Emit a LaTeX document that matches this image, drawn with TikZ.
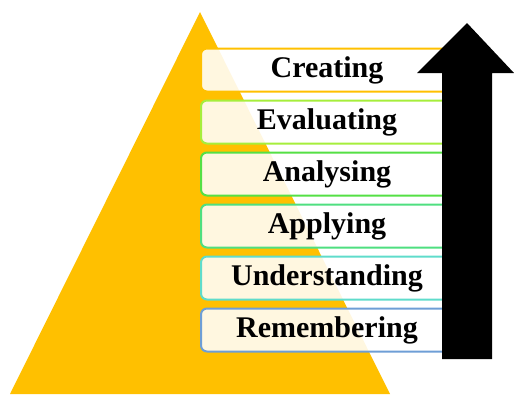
\documentclass[tikz,border=0pt]{standalone}
\usepackage{fontspec}
\setmainfont{Liberation Serif}
\usetikzlibrary{positioning}
\definecolor{Gold}{HTML}{FFC000}
\definecolor{LevelSix}{HTML}{FFC000}
\definecolor{LevelFive}{HTML}{A6EE3C}
\definecolor{LevelFour}{HTML}{55E045}
\definecolor{LevelThree}{HTML}{4FDF80}
\definecolor{LevelTwo}{HTML}{5FDCCB}
\definecolor{LevelOne}{HTML}{6E9ED6}
\tikzset{
    level/.style={rectangle, rounded corners=6pt, line width=2pt, fill=white, fill opacity=0.88, text opacity=1,
        minimum width=252pt, minimum height=43pt, inner sep=0pt, font=\fontsize{30}{36}\selectfont\bfseries},
}

\begin{document}
\begin{tikzpicture}[x=1pt, y=-1pt]
    \useasboundingbox (0,0) rectangle (514,394);

    % Piramide
    \fill[Gold] (200,12) -- (390,394) -- (10,394) -- cycle;

    % Livelli (dal basso verso l'alto)
    \node[level, draw=LevelSix] (creating) at (327,70) {Creating};
    \node[level, draw=LevelFive, below=7pt of creating] (evaluating) {Evaluating};
    \node[level, draw=LevelFour, below=7pt of evaluating] (analysing) {Analysing};
    \node[level, draw=LevelThree, below=7pt of analysing] (applying) {Applying};
    \node[level, draw=LevelTwo, below=7pt of applying] (understanding) {Understanding};
    \node[level, draw=LevelOne, below=7pt of understanding] (remembering) {Remembering};

    % Freccia verso l'alto
    \fill[black] (442,359) -- (442,73) -- (417,73) -- (467,23) -- (514,73) -- (492,73) -- (492,359) -- cycle;
\end{tikzpicture}
\end{document}
